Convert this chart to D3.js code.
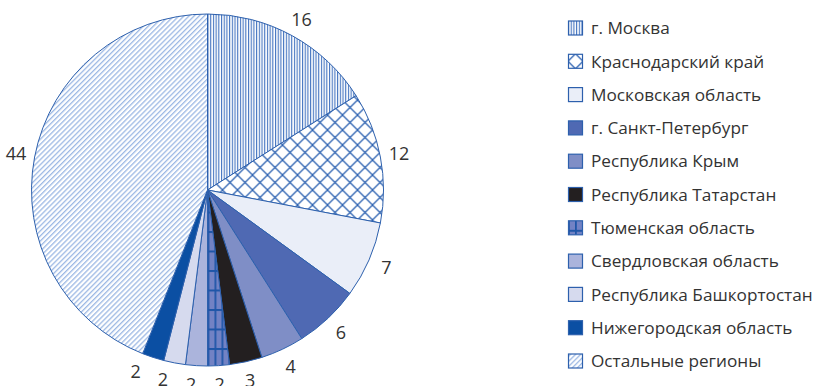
<!DOCTYPE html>
<html><head><meta charset="utf-8">
<script src="https://cdn.jsdelivr.net/npm/d3@7"></script>
<style>
body{margin:0;background:#fff}
svg{display:block}
text{font-family:"Open Sans",sans-serif;fill:#333}
</style>
</head><body>
<svg id="c" width="816" height="386"></svg>
<script>
const regions = ["г. Москва","Краснодарский край","Московская область","г. Санкт-Петербург","Республика Крым","Республика Татарстан","Тюменская область","Свердловская область","Республика Башкортостан","Нижегородская область","Остальные регионы"];
const values = [16,12,7,6,4,3,2,2,2,2,44];
const fills = ["url(#pMoscow)","url(#pCross)","#eaeef8","#4f69b3","#7f8ec6","#231f20","url(#pGrid)","#abb4dc","#d6daee","#0b4fa3","url(#pHatch)"];

const svg = d3.select("#c");
const defs = svg.append("defs");
const edge = "#2d60ad";

// vertical lines
let p = defs.append("pattern").attr("id","pMoscow").attr("patternUnits","userSpaceOnUse").attr("width",2.7).attr("height",10);
p.append("rect").attr("width",2.7).attr("height",10).attr("fill","#fff");
p.append("rect").attr("x",0).attr("width",1.1).attr("height",10).attr("fill","#4474c0");
// crosshatch
p = defs.append("pattern").attr("id","pCross").attr("patternUnits","userSpaceOnUse").attr("width",15).attr("height",15);
p.append("rect").attr("width",15).attr("height",15).attr("fill","#fff");
p.append("path").attr("d","M0,0L15,15M15,0L0,15").attr("stroke","#3064b2").attr("stroke-width",1.3);
// grid
p = defs.append("pattern").attr("id","pGrid").attr("patternUnits","userSpaceOnUse").attr("width",7).attr("height",19.5).attr("x",0).attr("y",2);
p.append("rect").attr("width",7).attr("height",19.5).attr("fill","#7282c4");
p.append("rect").attr("width",1.8).attr("height",19.5).attr("fill","#1f56a8");
p.append("rect").attr("width",7).attr("height",2).attr("fill","#1f56a8");
// diagonal hatch
p = defs.append("pattern").attr("id","pHatch").attr("patternUnits","userSpaceOnUse").attr("width",3.6).attr("height",10).attr("patternTransform","rotate(45)");
p.append("rect").attr("width",3.6).attr("height",10).attr("fill","#fff");
p.append("rect").attr("width",1.3).attr("height",10).attr("fill","#9cb8e4");

const cx = 207.5, cy = 190, R = 176;
const pie = d3.pie().sort(null).value(d=>d).startAngle(0).endAngle(2*Math.PI);
const arcs = pie(values);
const arc = d3.arc().innerRadius(0).outerRadius(R);
const g = svg.append("g").attr("transform",`translate(${cx},${cy})`);
g.selectAll("path").data(arcs).join("path")
  .attr("d",arc).attr("fill",(d,i)=>fills[i])
  .attr("stroke",edge).attr("stroke-width",1).attr("stroke-linejoin","round");

// labels with simple angular anti-overlap
const LR = 195, minGap = 8.4*Math.PI/180;
let prev = -Infinity;
const labAng = arcs.map(a=>{
  let m = (a.startAngle+a.endAngle)/2;
  if (m < prev + minGap && a.value < 10) m = prev + minGap;
  prev = m; return m;
});
g.selectAll("text.lab").data(arcs).join("text").attr("class","lab")
  .attr("x",(d,i)=>LR*Math.sin(labAng[i]))
  .attr("y",(d,i)=>-LR*Math.cos(labAng[i]))
  .attr("dy","0.36em").attr("text-anchor","middle")
  .attr("font-size",18).text(d=>d.value);

// legend
const ly = d3.scalePoint().domain(regions).range([28,361]);
const lg = svg.append("g");
const rows = lg.selectAll("g").data(regions).join("g").attr("transform",d=>`translate(568,${ly(d)})`);
rows.append("rect").attr("x",0.5).attr("y",-7).attr("width",14).attr("height",14)
  .attr("fill",(d,i)=>fills[i]).attr("stroke",edge).attr("stroke-width",1.2);
rows.append("text").attr("x",23).attr("dy","0.36em").attr("font-size",17.2).text(d=>d);
</script>
</body></html>
